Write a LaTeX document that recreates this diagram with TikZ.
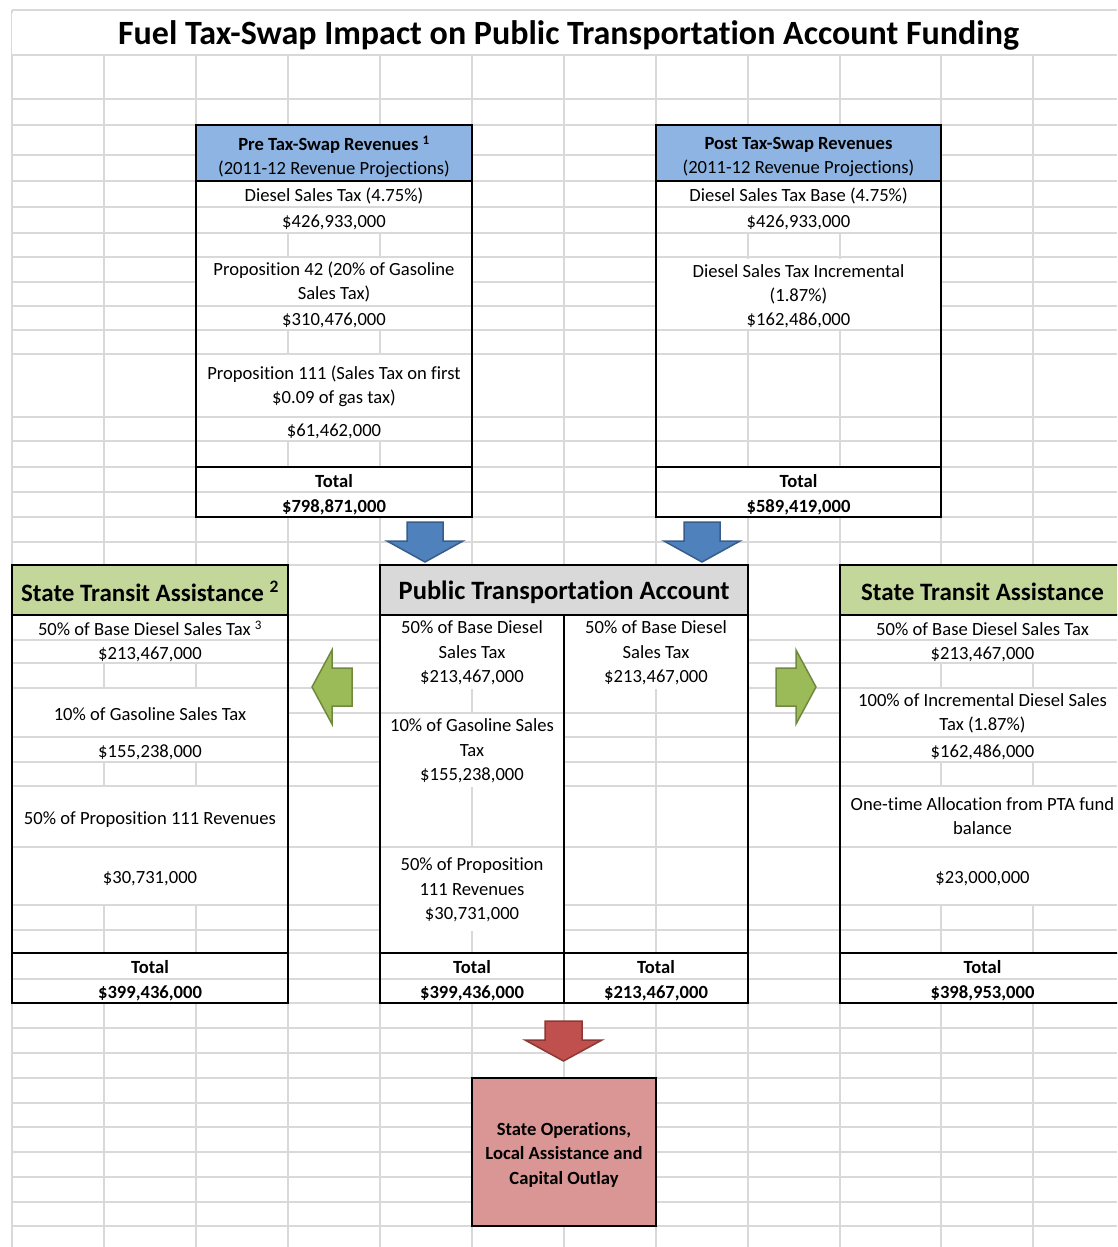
\documentclass[tikz,border=0pt]{standalone}
\usepackage{fontspec}
\setmainfont{Carlito}[Ligatures={NoCommon}]
\definecolor{gridc}{HTML}{D9D9D9}
\definecolor{hblue}{HTML}{8DB4E2}
\definecolor{hgreen}{HTML}{C4D79B}
\definecolor{hgray}{HTML}{D9D9D9}
\definecolor{hpink}{HTML}{DA9694}
\definecolor{ablue}{HTML}{4F81BD}
\definecolor{abluedk}{HTML}{385D8A}
\definecolor{agreen}{HTML}{9BBB59}
\definecolor{agreendk}{HTML}{71893F}
\definecolor{ared}{HTML}{C0504D}
\definecolor{areddk}{HTML}{8C3836}
\newcommand{\xcell}[7][]{%
  \fill[white] ({#3},{#4+0.9}) rectangle ({#5},{#6-0.9});
  \node[txt,#1] (#2) at ({(#3+#5)/2},{(#4+#6)/2}) {#7};}
\begin{document}
\begin{tikzpicture}[x=1pt,y=-1pt,
  gridline/.style={draw=gridc,line width=1.3pt},
  border/.style={draw=black,line width=2.6pt},
  txt/.style={align=center,inner sep=0pt,yshift=-3pt,font=\fontsize{18.6}{24.5}\selectfont,
    execute at begin node=\strut,execute at end node=\strut},
  bold/.style={font=\fontsize{18.6}{24.5}\selectfont\bfseries},
  hdr/.style={font=\fontsize{25}{28}\selectfont\bfseries},
  hdrb/.style={font=\fontsize{26.5}{28}\selectfont\bfseries},
  ttl/.style={font=\fontsize{34}{38}\selectfont\bfseries},
  barrow/.style={fill=ablue,draw=abluedk,line width=1.5pt},
  garrow/.style={fill=agreen,draw=agreendk,line width=1.5pt},
  rarrow/.style={fill=ared,draw=areddk,line width=1.5pt}]
\useasboundingbox (0,0) rectangle (1117,1247);
\clip (0,0) rectangle (1117,1247);
\fill[white] (0,0) rectangle (1117,1247);
% grid
\foreach \y in {10,55,99,125,155,181,207,233,257,282,306,330,354,417,441,467,492,517,542,565,615,640,663,688,713,737,762,786,847,905,930,953,979,1003,1028,1053,1078,1103,1127,1152,1177,1202,1226}
  \draw[gridline] (12,\y) -- (1117,\y);
\foreach \x in {104,196,288,380,472,564,656,748,840,941,1033}
  \draw[gridline] (\x,55) -- (\x,1247);
\draw[gridline] (12,10) -- (12,1247);
% title
\xcell[ttl]{title}{12}{12}{1125}{55}{Fuel Tax-Swap Impact on Public Transportation Account Funding}
% Pre box
\fill[hblue] (196,125) rectangle (472,181);
\node[txt] (preh) at (334,156) {{\bfseries Pre Tax-Swap Revenues \textsuperscript{1}}\\(2011-12 Revenue Projections)};
\xcell{pre1}{196}{181}{472}{207}{Diesel Sales Tax (4.75\%)}
\xcell{pre2}{196}{207}{472}{233}{\$426,933,000}
\xcell{pre3}{196}{257}{472}{306}{Proposition 42 (20\% of Gasoline\\Sales Tax)}
\xcell{pre4}{196}{306}{472}{330}{\$310,476,000}
\xcell{pre5}{196}{354}{472}{417}{Proposition 111 (Sales Tax on first\\\$0.09 of gas tax)}
\xcell{pre6}{196}{417}{472}{441}{\$61,462,000}
\xcell[bold]{pret}{196}{467}{472}{492}{Total}
\xcell[bold]{prev}{196}{492}{472}{517}{\$798,871,000}
\draw[border] (196,125) rectangle (472,517);
\draw[border] (196,181) -- (472,181);
\draw[border] (196,467) -- (472,467);
% Post box
\fill[hblue] (656,125) rectangle (941,181);
\node[txt] (posth) at (798.5,156) {{\bfseries Post Tax-Swap Revenues}\\(2011-12 Revenue Projections)};
\xcell{post1}{656}{181}{941}{207}{Diesel Sales Tax Base (4.75\%)}
\xcell{post2}{656}{207}{941}{233}{\$426,933,000}
\xcell{post3}{656}{258}{941}{309}{Diesel Sales Tax Incremental\\(1.87\%)}
\xcell{post4}{656}{306}{941}{330}{\$162,486,000}
\xcell[bold]{postt}{656}{467}{941}{492}{Total}
\xcell[bold]{postv}{656}{492}{941}{517}{\$589,419,000}
\draw[border] (656,125) rectangle (941,517);
\draw[border] (656,181) -- (941,181);
\draw[border] (656,467) -- (941,467);
% Left STA
\fill[hgreen] (12,565) rectangle (288,615);
\node[txt,hdr] (stalh) at (150,592) {State Transit Assistance \textsuperscript{2}};
\xcell{stal1}{12}{615}{288}{640}{50\% of Base Diesel Sales Tax \textsuperscript{3}}
\xcell{stal2}{12}{640}{288}{663}{\$213,467,000}
\xcell{stal3}{12}{688}{288}{737}{10\% of Gasoline Sales Tax}
\xcell{stal4}{12}{737}{288}{762}{\$155,238,000}
\xcell{stal5}{12}{786}{288}{847}{50\% of Proposition 111 Revenues}
\xcell{stal6}{12}{847}{288}{905}{\$30,731,000}
\xcell[bold]{stalt}{12}{953}{288}{979}{Total}
\xcell[bold]{stalv}{12}{979}{288}{1003}{\$399,436,000}
\draw[border] (12,565) rectangle (288,1003);
\draw[border] (12,615) -- (288,615);
\draw[border] (12,953) -- (288,953);
% PTA
\fill[hgray] (380,565) rectangle (748,615);
\node[txt,hdrb] (ptah) at (564,591) {Public Transportation Account};
\xcell{ptal1}{380}{615}{564}{690}{50\% of Base Diesel\\Sales Tax\\\$213,467,000}
\xcell{ptal2}{380}{713}{564}{788}{10\% of Gasoline Sales\\Tax\\\$155,238,000}
\xcell{ptal3}{380}{847}{564}{932}{50\% of Proposition\\111 Revenues\\\$30,731,000}
\xcell[bold]{ptalt}{380}{953}{564}{979}{Total}
\xcell[bold]{ptalv}{380}{979}{564}{1003}{\$399,436,000}
\xcell{ptar1}{564}{615}{748}{690}{50\% of Base Diesel\\Sales Tax\\\$213,467,000}
\xcell[bold]{ptart}{564}{953}{748}{979}{Total}
\xcell[bold]{ptarv}{564}{979}{748}{1003}{\$213,467,000}
\draw[border] (380,565) rectangle (748,1003);
\draw[border] (380,615) -- (748,615);
\draw[border] (380,953) -- (748,953);
\draw[border] (564,615) -- (564,1003);
% Right STA
\fill[hgreen] (840,565) rectangle (1125,615);
\node[txt,hdr] (starh) at (982.5,592) {State Transit Assistance};
\xcell{star1}{840}{615}{1125}{640}{50\% of Base Diesel Sales Tax}
\xcell{star2}{840}{640}{1125}{663}{\$213,467,000}
\xcell{star3}{840}{688}{1125}{737}{100\% of Incremental Diesel Sales\\Tax (1.87\%)}
\xcell{star4}{840}{737}{1125}{762}{\$162,486,000}
\xcell{star5}{840}{786}{1125}{847}{One-time Allocation from PTA fund\\balance}
\xcell{star6}{840}{847}{1125}{905}{\$23,000,000}
\xcell[bold]{start}{840}{953}{1125}{979}{Total}
\xcell[bold]{starv}{840}{979}{1125}{1003}{\$398,953,000}
\draw[border] (840,565) rectangle (1125,1003);
\draw[border] (840,615) -- (1125,615);
\draw[border] (840,953) -- (1125,953);
% bottom box
\fill[hpink] (472,1078) rectangle (656,1226);
\node[txt,bold] (ops) at (564,1154) {State Operations,\\Local Assistance and\\Capital Outlay};
\draw[border] (472,1078) rectangle (656,1226);
% arrows
\draw[barrow] (407,522) -- (443,522) -- (443,541) -- (463,541) -- (425,562) -- (387,541) -- (407,541) -- cycle;
\draw[barrow] (684,522) -- (720,522) -- (720,541) -- (740,541) -- (702,562) -- (664,541) -- (684,541) -- cycle;
\draw[garrow] (312,687) -- (332,650) -- (332,668) -- (352,668) -- (352,706) -- (332,706) -- (332,724) -- cycle;
\draw[garrow] (816,687) -- (796,650) -- (796,668) -- (776,668) -- (776,706) -- (796,706) -- (796,724) -- cycle;
\draw[rarrow] (545,1021) -- (582,1021) -- (582,1040) -- (602,1040) -- (563.5,1061) -- (525,1040) -- (545,1040) -- cycle;
\end{tikzpicture}
\end{document}
